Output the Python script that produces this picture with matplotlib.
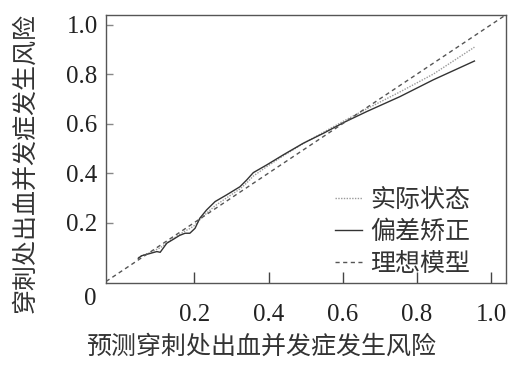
import matplotlib
matplotlib.use("Agg")
import matplotlib.pyplot as plt
from matplotlib.font_manager import FontProperties

# ---- data ----
pred_x = [0.049, 0.058, 0.080, 0.099, 0.108, 0.126, 0.144, 0.160, 0.175, 0.188,
          0.202, 0.215, 0.233, 0.256, 0.287, 0.323, 0.341, 0.359, 0.395, 0.440,
          0.494, 0.548, 0.602, 0.665, 0.754, 0.844, 0.955]
corrected_y = [0.056, 0.066, 0.075, 0.083, 0.080, 0.117, 0.133, 0.148, 0.157, 0.157,
               0.177, 0.218, 0.251, 0.285, 0.312, 0.345, 0.372, 0.402, 0.433, 0.474,
               0.521, 0.561, 0.604, 0.649, 0.709, 0.777, 0.853]
apparent_y = [0.058, 0.066, 0.078, 0.092, 0.098, 0.118, 0.136, 0.152, 0.166, 0.176,
              0.190, 0.212, 0.238, 0.268, 0.300, 0.336, 0.360, 0.388, 0.426, 0.470,
              0.520, 0.565, 0.610, 0.660, 0.728, 0.800, 0.909]
ideal_x = [0, 1]
ideal_y = [0, 1]

xticks = [0.2, 0.4, 0.6, 0.8, 1.0]
yticks = [0.2, 0.4, 0.6, 0.8, 1.0]
xtick_labels = ["0.2", "0.4", "0.6", "0.8", "1.0"]
ytick_labels = ["0.2", "0.4", "0.6", "0.8", "1.0"]

legend_labels = ["实际状态", "偏差矫正", "理想模型"]
xlabel = "预测穿刺处出血并发症发生风险"
ylabel = "穿刺处出血并发症发生风险"

cjk = FontProperties(family=["Noto Sans CJK SC", "DejaVu Sans"], size=18)
serif = FontProperties(family=["Liberation Serif", "DejaVu Serif"], size=18)

fig = plt.figure(figsize=(5.24, 3.65), dpi=100)
ax = fig.add_axes([0.2023, 0.2247, 0.7633, 0.7342])

ax.plot(pred_x, apparent_y, linestyle=(0, (1, 1)), color="#9a9a9a", lw=1.0,
        label=legend_labels[0])
ax.plot(pred_x, corrected_y, linestyle="-", color="#333333", lw=1.0,
        label=legend_labels[1])
ax.axline((ideal_x[0], ideal_y[0]), (ideal_x[1], ideal_y[1]),
          linestyle=(0, (3, 2.5)), color="#555555", lw=1.0, label=legend_labels[2])

ax.set_xlim(-0.038, 1.04)
ax.set_ylim(-0.044, 1.039)

ax.set_xticks(xticks)
ax.set_xticklabels(xtick_labels, fontproperties=serif, color="#222222")
ax.set_yticks(yticks)
ax.set_yticklabels(ytick_labels, fontproperties=serif, color="#222222")
ax.tick_params(axis="x", direction="in", length=8, width=1, color="#444444", pad=15)
ax.tick_params(axis="y", direction="in", length=5, width=1, color="#888888", pad=6)

for s in ax.spines.values():
    s.set_color("#555555")
    s.set_linewidth(1.0)

# origin "0" label placed below the corner
ax.annotate("0", xy=(0, 0), xycoords="axes fraction", xytext=(-7, -11.5),
            textcoords="offset points", ha="right", va="center",
            fontproperties=serif, color="#222222")

ax.set_xlabel(xlabel, fontproperties=cjk, color="#333333")
ax.xaxis.set_label_coords(0.3875, -0.19)
ax.set_ylabel(ylabel, fontproperties=cjk, color="#333333")
ax.yaxis.set_label_coords(-0.17, 0.448)

leg = ax.legend(loc="lower left", bbox_to_anchor=(0.5725, 0.024), frameon=False,
                prop=FontProperties(family=["Noto Sans CJK SC", "DejaVu Sans"], size=18),
                handlelength=1.1, handletextpad=0.32, labelspacing=0.24,
                borderpad=0, borderaxespad=0)
for t in leg.get_texts():
    t.set_color("#333333")

fig.savefig("out.png", dpi=100)
